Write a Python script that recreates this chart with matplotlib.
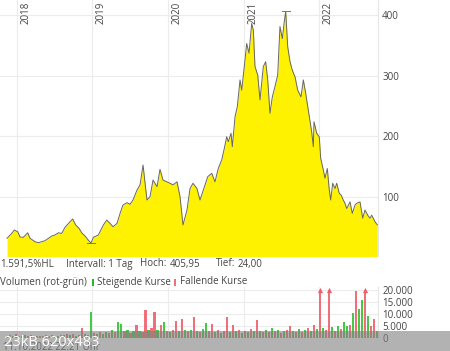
import numpy as np
import matplotlib
matplotlib.use('Agg')
import matplotlib.pyplot as plt
from matplotlib.patches import Rectangle

plt.rcParams['font.family'] = ['Open Sans', 'DejaVu Sans']

# price series (decimal year, price)
price_t = [2017.872, 2017.934, 2017.968, 2018.013, 2018.044, 2018.087, 2018.145, 2018.176,
           2018.242, 2018.286, 2018.374, 2018.463, 2018.506, 2018.550, 2018.595, 2018.638,
           2018.705, 2018.740, 2018.780, 2018.824, 2018.859, 2018.903, 2018.946, 2018.982,
           2019.013, 2019.079, 2019.145, 2019.190, 2019.233, 2019.273, 2019.326, 2019.366,
           2019.405, 2019.458, 2019.498, 2019.537, 2019.590, 2019.630, 2019.670, 2019.722,
           2019.762, 2019.802, 2019.855, 2019.894, 2019.934, 2019.987, 2020.026, 2020.066,
           2020.119, 2020.159, 2020.198, 2020.251, 2020.291, 2020.330, 2020.383, 2020.423,
           2020.467, 2020.525, 2020.578, 2020.621, 2020.665, 2020.710, 2020.744, 2020.776,
           2020.797, 2020.833, 2020.850, 2020.886, 2020.916, 2020.952, 2020.974, 2021.018,
           2021.040, 2021.071, 2021.106, 2021.128, 2021.150, 2021.186, 2021.216, 2021.260,
           2021.291, 2021.318, 2021.348, 2021.379, 2021.414, 2021.450, 2021.480, 2021.511,
           2021.537, 2021.556, 2021.582, 2021.613, 2021.643, 2021.679, 2021.715, 2021.758,
           2021.789, 2021.820, 2021.855, 2021.877, 2021.899, 2021.921, 2021.930, 2021.966,
           2022.000, 2022.018, 2022.053, 2022.075, 2022.106, 2022.132, 2022.151, 2022.177,
           2022.208, 2022.230, 2022.264, 2022.290, 2022.317, 2022.340, 2022.362, 2022.406,
           2022.428, 2022.436, 2022.472, 2022.494, 2022.538, 2022.574, 2022.604, 2022.640,
           2022.670, 2022.693, 2022.736, 2022.767]
price_v = [32, 40, 45.6, 42.8, 34, 33.5, 41, 32,
           26.3, 24.7, 28, 35.7, 37.4, 41, 40, 50,
           59.3, 63.7, 53.8, 48.4, 41, 35.7, 29, 24,
           33.5, 37.4, 53.8, 62, 56.6, 51, 56.6, 73,
           86.8, 90.6, 88, 95, 111.5, 120, 152.7, 95,
           100.5, 128, 117, 145.6, 128, 125, 122.6, 120,
           125, 100.5, 53.8, 78.6, 114, 122.6, 114, 95,
           111.5, 133.5, 139, 125, 147.3, 161, 180, 199.4,
           191, 205, 183, 232, 249, 293, 276, 326,
           353, 337, 386, 375, 315, 301, 260, 315,
           323, 293, 238, 265, 282, 301, 381, 361,
           389, 405.95, 348, 323, 309, 298, 276, 265,
           293, 271, 243, 225, 207.6, 183, 224, 205,
           199, 164, 144.5, 131, 147, 111.5, 95, 122.6,
           114, 122.6, 106, 103, 95, 89.6, 81, 92,
           78.6, 73, 86.8, 89.6, 92, 65, 78.6, 70,
           65, 70, 59.3, 54]

# daily-ish volume in thousands, negative = falling price (red)
volume_k = [0.8, -1.2, 0.9, -1.5, 1.0, -0.7, 1.1, -0.9, 1.3, -0.8,
            -0.7, 1.0, -0.8, 1.2, -0.9, 1.4, -1.0, 0.8, -1.1, 1.3,
            -1.5, 1.2, -1.8, 1.0, -1.4, -4.0, 1.6, -1.2,
            10.8,
            -2.0, 1.5, -2.3, 1.8, 2.6, -2.0, 3.2, -2.4,
            6.7, 6.0,
            -2.8, 3.5, -2.2, 3.0,
            -5.4, 3.0, -2.4,
            -11.6, 3.5, -4.2,
            -11.0, 3.2,
            -5.5, 6.5,
            -3.0, 2.6, -3.4,
            -7.1, 3.0,
            -8.0, 3.5, -2.8, 3.2,
            -8.8, 3.0, -2.4, 3.6,
            6.2, -2.8,
            -5.8, 2.5, -3.2, 2.2, -3.0,
            -8.8, 2.6,
            -5.5, 2.8, -3.4, 2.2, -3.0, 2.5, -3.6, 2.8,
            -7.5, 3.0, -2.4, 3.2, -2.6, 4.0, -2.8, 3.4, -2.2, 3.0, -3.5,
            -5.0, 3.0, -2.6, 3.8, -2.4, 3.2, -4.2, 2.8,
            -5.4, 3.6,
            -30.0,
            4.0, -3.2,
            -24.0,
            4.5, -3.0, 5.0, -3.6,
            6.5,
            4.8, -5.5,
            10.4,
            -19.5,
            12.0,
            15.8,
            -28.0,
            9.0,
            -5.0,
            -8.0,
            3.0]

years = [2018, 2019, 2020, 2021, 2022]
price_ticks = [100, 200, 300, 400]
vol_ticks = [0, 5000, 10000, 15000, 20000]
vol_labels = ['0', '5.000', '10.000', '15.000', '20.000']

W, H = 450, 351
fig = plt.figure(figsize=(W / 100, H / 100), dpi=100)
ax = fig.add_axes([0, 1 - 256 / H, 378 / W, 256 / H])
vax = fig.add_axes([0, 1 - 338 / H, 378 / W, 51 / H])

xlim = (2017.779, 2022.776)
grid_c = '#ececec'
txt_c = '#444444'

# price panel
ax.fill_between(price_t, price_v, 0, color='#fff200', lw=0)
ax.plot(price_t, price_v, color='#666666', lw=0.7)
i_hi = int(np.argmax(price_v))
i_lo = int(np.argmin(price_v))
for i in (i_hi, i_lo):
    ax.plot([price_t[i] - 0.055, price_t[i] + 0.055], [price_v[i], price_v[i]],
            color='#777777', lw=0.7)
ax.set_xlim(*xlim)
ax.set_ylim(2.75, 424.7)
ax.set_xticks(years)
ax.set_yticks(price_ticks)
ax.yaxis.tick_right()
ax.tick_params(axis='x', length=0, labelbottom=False)
ax.tick_params(axis='y', length=0, pad=3, labelsize=7, labelcolor=txt_c)
ax.grid(True, color=grid_c, lw=0.8)
ax.set_axisbelow(True)
for s in ['top', 'left', 'bottom']:
    ax.spines[s].set_visible(False)
ax.spines['right'].set_color('#e6e6e6')
for yr in years:
    ax.annotate(str(yr), xy=(yr, 1), xycoords=('data', 'axes fraction'),
                xytext=(2.5, -1.5), textcoords='offset points', rotation=90,
                ha='left', va='top', fontsize=7, color=txt_c)

# volume panel
vol = np.array(volume_k) * 1000
vol_t = np.linspace(2017.872, 2022.767, len(vol))
cap = 19800
colors = np.where(vol >= 0, '#33c233', '#ef5f6a')
vax.bar(vol_t, np.minimum(np.abs(vol), cap), width=0.028, color=colors, lw=0, alpha=0.9)
over = np.abs(vol) > cap
vax.scatter(vol_t[over], np.full(over.sum(), cap), marker='^', s=14, color='#ef5f6a',
            lw=0, clip_on=False, zorder=3)
vax.set_xlim(*xlim)
vax.set_ylim(0, 21250)
vax.set_xticks(years)
vax.set_yticks(vol_ticks)
vax.set_yticklabels(vol_labels)
vax.yaxis.tick_right()
vax.tick_params(axis='x', length=0, labelbottom=False)
vax.tick_params(axis='y', length=0, pad=3, labelsize=7, labelcolor=txt_c)
vax.grid(True, color=grid_c, lw=0.8)
vax.set_axisbelow(True)
for s in ['top', 'left', 'bottom']:
    vax.spines[s].set_visible(False)
vax.spines['right'].set_color('#e6e6e6')

# info rows
def px_text(x, y, s, **kw):
    fig.text(x / W, 1 - y / H, s, fontsize=7, color=txt_c, va='center', ha='left', **kw)

px_text(0, 264, '1.591,5%HL')
px_text(66, 264, 'Intervall: 1 Tag')
px_text(140, 264, 'Hoch:')
px_text(170, 264, '405,95')
px_text(216, 264, 'Tief:')
px_text(238, 264, '24,00')
px_text(0, 282, 'Volumen (rot-grün)')
px_text(97, 282, 'Steigende Kurse')
px_text(180, 282, 'Fallende Kurse')
fig.patches.append(Rectangle((91.5 / W, 1 - 286 / H), 2 / W, 7 / H,
                             transform=fig.transFigure, color='#22bb22', lw=0))
fig.patches.append(Rectangle((173.5 / W, 1 - 286 / H), 2 / W, 7 / H,
                             transform=fig.transFigure, color='#f07078', lw=0))
px_text(3, 348, '11.10.2022 22:21 Uhr', zorder=1)

# thumbnail overlay
fig.patches.append(Rectangle((0, 0), 1, 20 / H, transform=fig.transFigure,
                             color='#808080', alpha=0.6, lw=0, zorder=5))
fig.text(4 / W, 1 - 343 / H, '23kB 620x483', fontsize=10.5, color='white',
         va='center', ha='left', zorder=6)

fig.savefig('out.png', dpi=100)
